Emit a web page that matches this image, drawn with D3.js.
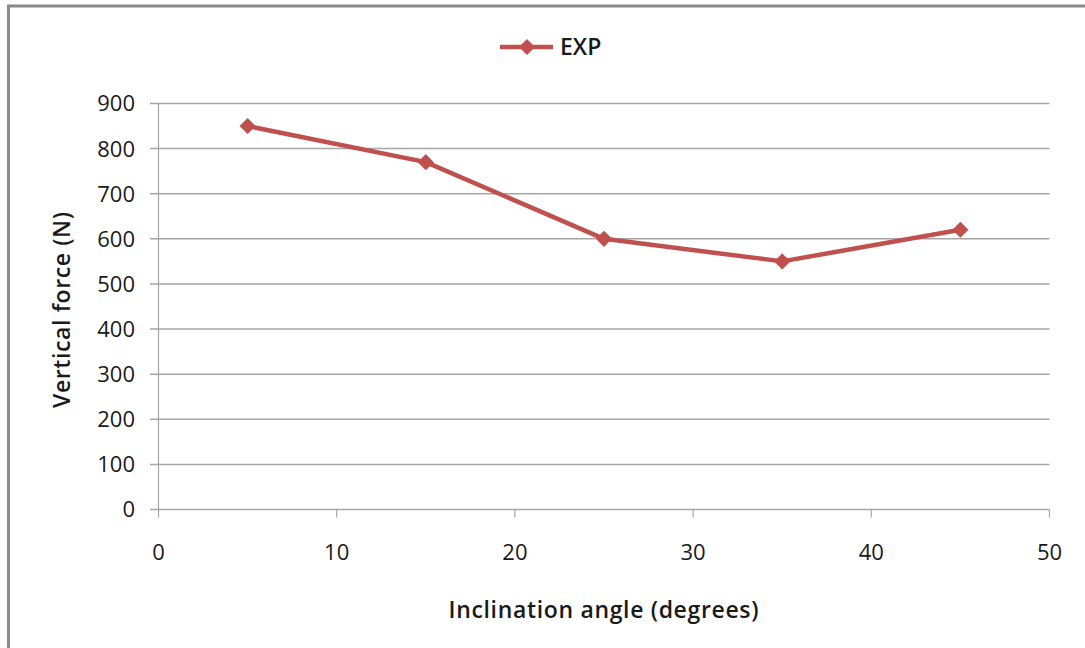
<!DOCTYPE html>
<html><head><meta charset="utf-8">
<script src="https://cdn.jsdelivr.net/npm/d3@7"></script>
<style>
html,body{margin:0;padding:0;background:#fff;}
svg{display:block;}
text{font-family:"Open Sans","Liberation Sans",sans-serif;fill:#1a1a1a;}
</style></head>
<body>
<script>
const angles = [5, 15, 25, 35, 45];
const expForce = [850, 770, 600, 550, 620];
const xTicks = [0, 10, 20, 30, 40, 50];
const yTicks = [0, 100, 200, 300, 400, 500, 600, 700, 800, 900];
const seriesName = "EXP";
const xTitle = "Inclination angle (degrees)";
const yTitle = "Vertical force (N)";

const W = 1085, H = 648;
const svg = d3.select("body").append("svg").attr("width", W).attr("height", H);
svg.append("rect").attr("width", W).attr("height", H).attr("fill", "#fff");
// frame (only top/left visible)
svg.append("rect").attr("x", 8.5).attr("y", 6).attr("width", W + 20).attr("height", H + 20)
  .attr("fill", "none").attr("stroke", "#8a8a8a").attr("stroke-width", 3);

const x = d3.scaleLinear().domain([0, 50]).range([158.5, 1049.5]);
const y = d3.scaleLinear().domain([0, 900]).range([509.5, 103.5]);

// gridlines
svg.append("g").selectAll("line").data(yTicks).join("line")
  .attr("x1", 150).attr("x2", x(50)).attr("y1", d => y(d)).attr("y2", d => y(d))
  .attr("stroke", "#a6a6a6").attr("stroke-width", 1.5);
// y axis line
svg.append("line").attr("x1", x(0)).attr("x2", x(0)).attr("y1", y(900)).attr("y2", y(0))
  .attr("stroke", "#a6a6a6").attr("stroke-width", 1.2);
// x ticks
svg.append("g").selectAll("line").data(xTicks).join("line")
  .attr("x1", d => x(d)).attr("x2", d => x(d)).attr("y1", y(0)).attr("y2", y(0) + 8)
  .attr("stroke", "#a6a6a6").attr("stroke-width", 1.2);

// y tick labels
svg.append("g").selectAll("text").data(yTicks).join("text")
  .attr("x", 135).attr("y", d => y(d)).attr("dy", "0.36em").attr("text-anchor", "end")
  .attr("font-size", 22).text(d => d);
// x tick labels
svg.append("g").selectAll("text").data(xTicks).join("text")
  .attr("x", d => x(d)).attr("y", 552).attr("dy", "0.36em").attr("text-anchor", "middle")
  .attr("font-size", 22).text(d => d);

// axis titles
svg.append("text").attr("x", 603.5).attr("y", 610).attr("dy", "0.36em").attr("text-anchor", "middle")
  .attr("font-size", 23).attr("font-weight", 600).attr("textLength", 310).text(xTitle);
svg.append("text").attr("transform", "translate(62,310) rotate(-90)").attr("dy", "0.36em")
  .attr("text-anchor", "middle").attr("font-size", 23).attr("font-weight", 600)
  .attr("textLength", 196).text(yTitle);

const red = "#c0504d";
const data = angles.map((a, i) => ({a, v: expForce[i]}));
svg.append("path").datum(data)
  .attr("d", d3.line().x(d => x(d.a)).y(d => y(d.v)))
  .attr("fill", "none").attr("stroke", red).attr("stroke-width", 4.5).attr("stroke-linejoin", "round");
const marker = d3.symbol().type(d3.symbolSquare).size(130);
svg.append("g").selectAll("path").data(data).join("path")
  .attr("transform", d => `translate(${x(d.a)},${y(d.v)}) rotate(45)`)
  .attr("d", marker).attr("fill", red);

// legend
const lg = svg.append("g");
lg.append("line").attr("x1", 500).attr("x2", 553).attr("y1", 47).attr("y2", 47)
  .attr("stroke", red).attr("stroke-width", 4.5);
lg.append("path").attr("transform", "translate(527,47) rotate(45)")
  .attr("d", marker).attr("fill", red);
lg.append("text").attr("x", 560).attr("y", 47).attr("dy", "0.36em")
  .attr("font-size", 23).attr("font-weight", 600).text(seriesName);
</script>
</body></html>
